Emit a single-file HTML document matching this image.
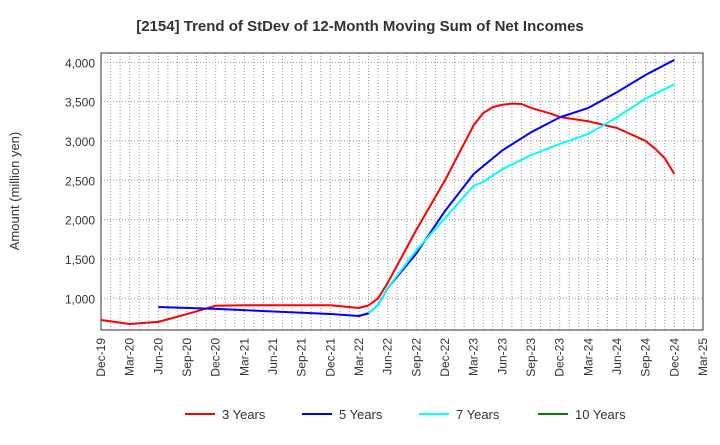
<!DOCTYPE html>
<html><head><meta charset="utf-8"><style>
body{margin:0;background:#fff;font-family:"Liberation Sans",Arial,sans-serif;}
svg text{font-family:"Liberation Sans",Arial,sans-serif;}
</style></head><body>
<svg id="chart" width="720" height="440" xmlns="http://www.w3.org/2000/svg">
<text x="360" y="31" text-anchor="middle" font-size="15" font-weight="bold" fill="#333">[2154]  Trend of StDev of 12-Month Moving Sum of Net Incomes</text>
<text transform="translate(19,191) rotate(-90)" text-anchor="middle" font-size="13" fill="#333">Amount (million yen)</text>
<g id="grid"></g>
<g id="series"></g>
<rect x="101" y="53" width="602" height="277" fill="none" stroke="#333" stroke-width="1"/>
<g id="axes"></g>
<g id="legend"></g>
</svg>
<script>
const xTickLabels=["Dec-19","Mar-20","Jun-20","Sep-20","Dec-20","Mar-21","Jun-21","Sep-21","Dec-21","Mar-22","Jun-22","Sep-22","Dec-22","Mar-23","Jun-23","Sep-23","Dec-23","Mar-24","Jun-24","Sep-24","Dec-24","Mar-25"];
const yTicks=[1000,1500,2000,2500,3000,3500,4000];
// month index from Dec-19 (0) and value
const m3=[0,3,6,9,12,15,18,21,24,27,28,29,30,33,36,39,40,41,42,43,44,45,47,48,51,54,57,58,59,60];
const v3=[724,673,700,800,905,912,912,912,912,877,910,1000,1195,1870,2500,3200,3355,3430,3460,3475,3470,3420,3350,3305,3250,3165,3000,2900,2780,2580];
const m5=[6,12,24,27,28,29,30,33,36,39,42,45,48,51,54,57,60];
const v5=[890,865,800,775,810,915,1130,1570,2110,2580,2880,3110,3300,3420,3620,3840,4030];
const m7=[28,29,30,33,36,39,40,42,45,48,51,54,57,60];
const v7=[810,915,1130,1610,2020,2430,2480,2640,2820,2960,3090,3300,3540,3720];
const m10=[];const v10=[];
const legendNames=["3 Years","5 Years","7 Years","10 Years"];
const colors=["#ff0000","#0000ff","#00ffff","#008000"];

const X0=101,X1=703,Y0=330,Y1=53;
const xs=m=>X0+m*(X1-X0)/63;
const ys=v=>298.3-(v-1000)*(236/3000);
const NS="http://www.w3.org/2000/svg";
function mk(t,a,p){const e=document.createElementNS(NS,t);for(const k in a)e.setAttribute(k,a[k]);p.appendChild(e);return e;}
const grid=document.getElementById('grid'),axes=document.getElementById('axes'),ser=document.getElementById('series'),leg=document.getElementById('legend');
for(let m=1;m<63;m++){const l=mk('line',{x1:xs(m),x2:xs(m),y1:Y1,y2:Y0,stroke:'#999','stroke-dasharray':'1,2','stroke-width':1},grid);

}
yTicks.forEach(v=>{const l=mk('line',{x1:X0,x2:X1,y1:ys(v),y2:ys(v),stroke:'#999','stroke-dasharray':'1,2'},grid);


const t=mk('text',{x:X0-6,y:ys(v)+5,'text-anchor':'end','font-size':12,fill:'#333'},axes);t.textContent=v.toLocaleString('en-US');

});
xTickLabels.forEach((s,i)=>{const x=xs(i*3);const t=mk('text',{transform:`translate(${x+4},${Y0+8}) rotate(-90)`,'text-anchor':'end','font-size':12,fill:'#333'},axes);t.textContent=s;

});
[[m3,v3],[m5,v5],[m7,v7],[m10,v10]].forEach((d,i)=>{if(!d[0].length)return;
const p=mk('polyline',{points:d[0].map((m,j)=>xs(m)+','+ys(d[1][j])).join(' '),fill:'none',stroke:colors[i],'stroke-width':2,'stroke-linejoin':'round'},ser);

});
const lx=[185,302,419,538];
legendNames.forEach((n,i)=>{const g=mk('g',{},leg);


mk('line',{x1:lx[i],x2:lx[i]+30,y1:414,y2:414,stroke:colors[i],'stroke-width':2},g);
const t=mk('text',{x:lx[i]+37,y:419,'font-size':13,fill:'#333'},g);t.textContent=n;});
</script>
</body></html>
